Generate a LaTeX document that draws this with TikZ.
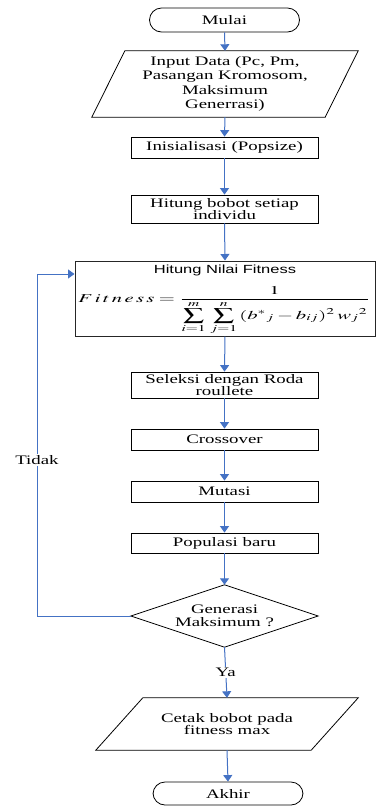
\documentclass[tikz,border=0pt]{standalone}
\usepackage{mathptmx}
\usepackage[no-math]{fontspec}
\setmainfont{Liberation Serif}[FakeStretch=1.45]
\newfontfamily\hsans{Liberation Sans}[FakeStretch=1.4]
\usetikzlibrary{arrows.meta}
\definecolor{flowblue}{RGB}{68,114,196}
\newcommand\fsz{\fontsize{13}{12.5}\selectfont}
\newcommand\fszin{\fontsize{13}{14.5}\selectfont}
\begin{document}
\begin{tikzpicture}[x=1pt,y=-1pt,
  box/.style={draw=black, line width=0.8pt, minimum width=187pt, align=center, inner sep=0pt, font=\fsz},
  plain/.style={align=center, inner sep=0pt, font=\fsz},
  outline/.style={draw=black, line width=0.8pt, line join=miter},
  term/.style={draw=black, line width=0.8pt, rounded corners=12pt, minimum width=150pt, minimum height=24pt, inner sep=0pt, font=\fsz},
  arr/.style={draw=flowblue, line width=1pt, -{Triangle[length=6.5pt,width=9pt]}},
  lbl/.style={fill=white, inner sep=1.5pt, font=\fsz, text=black}]
\useasboundingbox (0,0) rectangle (385,807);
% nodes
\node[term] (mulai) at (224.5,20) {Mulai};
\node[plain, minimum width=233pt, minimum height=66pt, font=\fszin] (input) at (225,84) {Input Data (Pc, Pm,\\Pasangan Kromosom,\\Maksimum\\Generrasi)};
\draw[outline] ([xshift=16.5pt]input.north west) -- ([xshift=16.5pt]input.north east) -- ([xshift=-16.5pt]input.south east) -- ([xshift=-16.5pt]input.south west) -- cycle;
\node[box, minimum height=21pt] (init) at (224.5,147.5) {Inisialisasi (Popsize)};
\node[box, minimum height=28pt] (bobot) at (224.5,209) {Hitung bobot setiap\\individu};
\node[draw=black!85, line width=1pt, minimum width=300pt, minimum height=75pt, inner sep=0pt] (fit) at (225,298.5) {};
\node[font=\hsans\fontsize{11.8}{13}\selectfont, inner sep=0pt] (fitt) at (225,270) {Hitung Nilai Fitness};
\node[inner sep=0pt] (form) at (224,310.5) {\scalebox{1.72}[1]{\fontsize{12}{14}\selectfont$\displaystyle F\,i\,t\,n\,e\,s\,s=\frac{1}{\displaystyle\sum_{i=1}^{m}\,\sum_{j=1}^{n}\,(b^{*}{}_{j}-b_{ij})^{2}\,w_{j}{}^{2}}$}};
\node[box, minimum height=26pt] (sel) at (224.5,385) {Seleksi dengan Roda\\roullete};
\node[box, minimum height=21pt] (cross) at (224.5,439.5) {Crossover};
\node[box, minimum height=21pt] (mut) at (224.5,491.5) {Mutasi};
\node[box, minimum height=20pt] (pop) at (224.5,543) {Populasi baru};
\node[plain, minimum width=187pt, minimum height=62pt] (dia) at (224.5,616) {Generasi\\Maksimum ?};
\draw[outline] (dia.north) -- (dia.east) -- (dia.south) -- (dia.west) -- cycle;
\node[plain, minimum width=215pt, minimum height=52pt] (cetak) at (227,724) {Cetak bobot pada\\fitness max};
\draw[outline] ([xshift=23.5pt]cetak.north west) -- ([xshift=23.5pt]cetak.north east) -- ([xshift=-23.5pt]cetak.south east) -- ([xshift=-23.5pt]cetak.south west) -- cycle;
\node[term, minimum height=23pt] (akhir) at (228,793.5) {Akhir};
\coordinate (c1) at (37,616);
\coordinate (c2) at (37,274);
% connectors
\draw[arr] (mulai.south) -- (input.north);
\draw[arr] (input.south) -- (init.north);
\draw[arr] (init.south) -- (bobot.north);
\draw[arr] (bobot.south) -- (fit.north);
\draw[arr] (fit.south) -- (sel.north);
\draw[arr] (sel.south) -- (cross.north);
\draw[arr] (cross.south) -- (mut.north);
\draw[arr] (mut.south) -- (pop.north);
\draw[arr] (pop.south) -- (dia.north);
\draw[arr] (dia.south) -- node[lbl]{Ya} (cetak.north);
\draw[arr] (cetak.south) -- (akhir.north);
\draw[arr] (dia.west) -- (c1) -- node[lbl, pos=0.456]{Tidak} (c2) -- (c2 -| fit.west);
\end{tikzpicture}
\end{document}
